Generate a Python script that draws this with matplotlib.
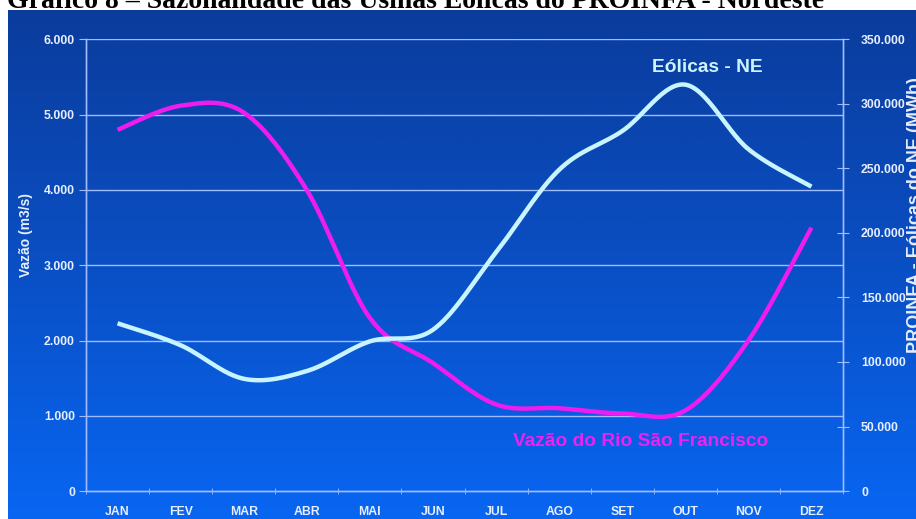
import numpy as np
import matplotlib
matplotlib.use("Agg")
import matplotlib.pyplot as plt
from matplotlib.colors import LinearSegmentedColormap

# Dados mensais
meses = ["JAN", "FEV", "MAR", "ABR", "MAI", "JUN", "JUL", "AGO", "SET", "OUT", "NOV", "DEZ"]
vazao = [4800, 5120, 5030, 4000, 2300, 1700, 1150, 1100, 1030, 1070, 2000, 3500]
eolicas = [130000, 113000, 87000, 93000, 116000, 125000, 185000, 249000, 279000, 315000, 265000, 236000]
ticks_vazao = [0, 1000, 2000, 3000, 4000, 5000, 6000]
ticks_eolicas = [0, 50000, 100000, 150000, 200000, 250000, 300000, 350000]

W, H = 916, 519
FONT = "Liberation Sans"
TXT = "#e6eeff"
GRID = "#9ebcff"


def fmt_br(v):
    return f"{v:,.0f}".replace(",", ".")


def suavizar(y, n=30):
    """Curva suave (Catmull-Rom / Bezier) passando pelos pontos."""
    y = np.asarray(y, float)
    x = np.arange(len(y), dtype=float)
    pts = np.column_stack([x, y])
    pe = np.vstack([pts[0], pts, pts[-1]])
    t = np.linspace(0, 1, n)[:, None]
    out = []
    for i in range(1, len(pe) - 2):
        p0, p1, p2, p3 = pe[i - 1], pe[i], pe[i + 1], pe[i + 2]
        b1 = p1 + (p2 - p0) / 6.0
        b2 = p2 - (p3 - p1) / 6.0
        seg = ((1 - t) ** 3) * p1 + 3 * ((1 - t) ** 2) * t * b1 + 3 * (1 - t) * t ** 2 * b2 + t ** 3 * p2
        out.append(seg if i == 1 else seg[1:])
    c = np.vstack(out)
    return c[:, 0], c[:, 1]


fig = plt.figure(figsize=(W / 100, H / 100), dpi=100, facecolor="white")

# Painel azul com degradê
bg = fig.add_axes([8 / W, 0, 1 - 8 / W, 1 - 10 / H])
bg.set_axis_off()
cmap = LinearSegmentedColormap.from_list("azul", ["#0a3c9c", "#0a4fc4", "#0866f2"])
grad = np.linspace(0, 1, 256)[:, None]
bg.imshow(grad, aspect="auto", cmap=cmap, extent=[0, 1, 0, 1], origin="upper")

# Título (parcialmente fora da área visível)
fig.text(7 / W, 1 - 8 / H, "Gráfico 8 – Sazonalidade das Usinas Eólicas do PROINFA - Nordeste",
         family="Liberation Serif", fontweight="bold", fontsize=20, color="black",
         ha="left", va="baseline")

x0, x1 = 86, 843
y_top, y_bot = 39.5, 491
ax = fig.add_axes([x0 / W, 1 - y_bot / H, (x1 - x0) / W, (y_bot - y_top) / H])
ax.patch.set_alpha(0)
ax2 = ax.twinx()
ax2.patch.set_alpha(0)

n = len(meses)
ax.set_xlim(-0.5, n - 0.5)
ax.set_ylim(ticks_vazao[0], ticks_vazao[-1])
ax2.set_ylim(ticks_eolicas[0], ticks_eolicas[-1])

for v in ticks_vazao[1:]:
    ax.axhline(v, color=GRID, lw=1.0, zorder=1)

for a in (ax, ax2):
    a.spines["top"].set_visible(False)
    for s in ["left", "right", "bottom"]:
        a.spines[s].set_color(GRID)
        a.spines[s].set_linewidth(1.0)

ax.set_xticks(range(n))
ax.set_xticklabels(meses)
ax.set_xticks(np.arange(-0.5, n, 1.0), minor=True)
ax.tick_params(axis="x", which="major", length=0, pad=11)
ax.tick_params(axis="x", which="minor", length=4, direction="inout", color=GRID)
ax.set_yticks(ticks_vazao)
ax.set_yticklabels([fmt_br(v) for v in ticks_vazao])
ax.tick_params(axis="y", length=5, direction="out", color=GRID, pad=3)
ax2.set_yticks(ticks_eolicas)
ax2.set_yticklabels([fmt_br(v) for v in ticks_eolicas])
ax2.tick_params(axis="y", length=8, direction="inout", color=GRID, pad=9)

for lab in ax.get_xticklabels() + ax.get_yticklabels() + ax2.get_yticklabels():
    lab.set_family(FONT)
    lab.set_fontweight("bold")
    lab.set_fontsize(8.8)
    lab.set_color(TXT)

# Séries
xs, ys = suavizar(vazao)
ax.plot(xs, ys, color="#ee1cee", lw=3.2, solid_capstyle="butt", zorder=3)
xe, ye = suavizar(eolicas)
ax2.plot(xe, ye, color="#c8f4ff", lw=3.2, solid_capstyle="butt", zorder=3)

# Rótulos
fig.text(26 / W, 1 - 235 / H, "Vazão (m3/s)", rotation=90, family=FONT, fontweight="bold",
         fontsize=10, color=TXT, ha="center", va="center")
fig.text(916 / W, 1 - 215 / H, "PROINFA - Eólicas do NE (MWh)", rotation=90, family=FONT,
         fontweight="bold", fontsize=13, color=TXT, ha="center", va="center")
fig.text(707 / W, 1 - 68 / H, "Eólicas - NE", family=FONT, fontweight="bold", fontsize=13.8,
         color="#cdf3ff", ha="center", va="center")
fig.text(641 / W, 1 - 442 / H, "Vazão do Rio São Francisco", family=FONT, fontweight="bold",
         fontsize=13.8, color="#ee22ee", ha="center", va="center")

fig.savefig("out.png", dpi=100, facecolor="white")
